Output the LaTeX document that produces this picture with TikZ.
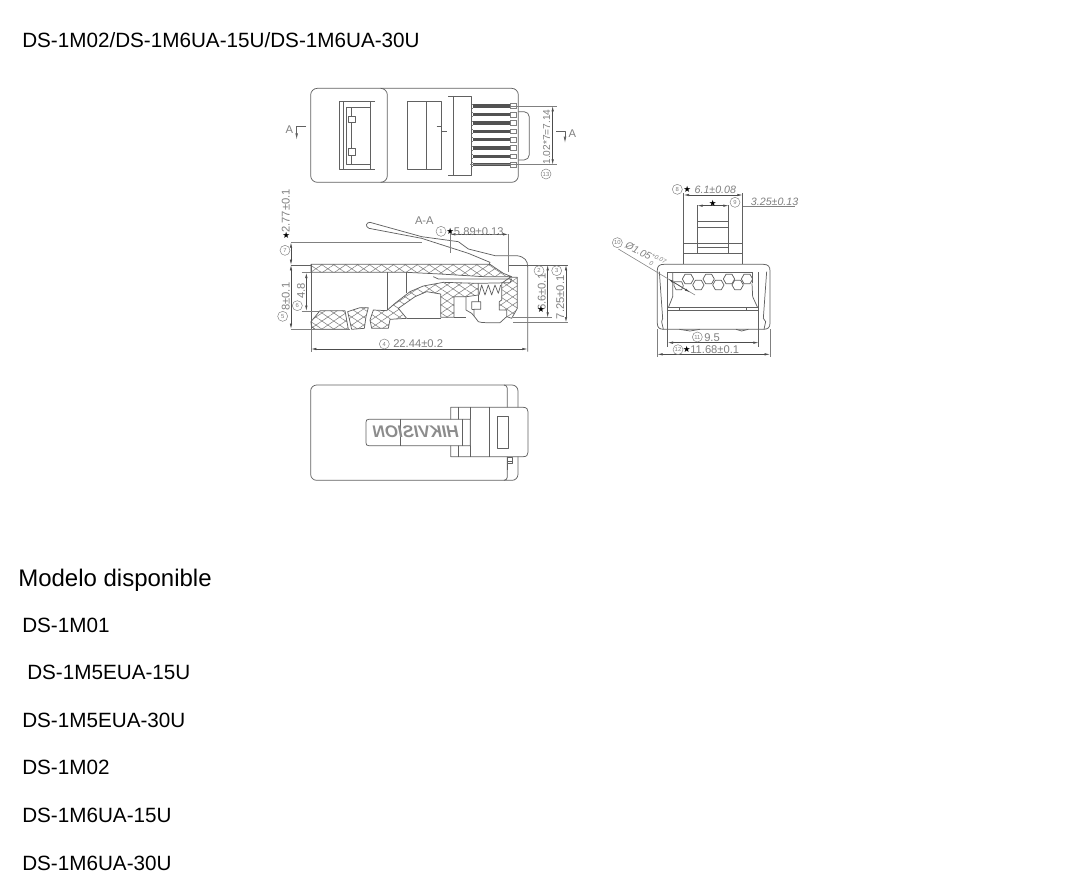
\documentclass[tikz,border=0pt]{standalone}
\usepackage{fontspec}
\setmainfont{Liberation Sans}
\newfontfamily\symfont{DejaVu Sans}
\usetikzlibrary{patterns.meta,arrows.meta}
\definecolor{ink}{gray}{0.38}
\definecolor{dim}{gray}{0.5}
\tikzset{
  list/.style={anchor=west,inner sep=0pt,font=\fontsize{15.5}{18}\selectfont,text=black},
  part/.style={draw=ink,line width=.55pt,line join=round},
  thin part/.style={draw=dim,line width=.4pt},
  dimline/.style={draw=dim,line width=.4pt},
  arr/.style={draw=black!70,line width=.45pt,{Latex[length=4pt,width=1.8pt]}-{Latex[length=4pt,width=1.8pt]}},
  dimtext/.style={inner sep=0pt,text=dim,font=\fontsize{8.4}{10}\selectfont},
  num/.style={draw=dim,circle,line width=.35pt,inner sep=0pt,minimum size=7.5pt,text=dim,font=\fontsize{4.4}{5}\selectfont},
  hatchA/.style={pattern={Lines[angle=34,distance=5pt,line width=.4pt]},pattern color=dim},
  hatchB/.style={pattern={Lines[angle=-34,distance=5pt,line width=.4pt]},pattern color=dim},
  star/.style={inner sep=0pt,text=black,font=\symfont\fontsize{6.5}{7}\selectfont}
}
\newcommand{\hatched}[1]{%
  \path[hatchA] #1; \path[hatchB] #1; \draw[part] #1;}
\begin{document}
\begin{tikzpicture}[x=.75pt,y=-.75pt]
\useasboundingbox (0,0) rectangle (1065,892);
\fill[white] (0,0) rectangle (1065,892);
% texts
\node[list] (title) at (22,40) {DS-1M02/DS-1M6UA-15U/DS-1M6UA-30U};
\node[list,font=\fontsize{18}{20}\selectfont] (modelo) at (18,580) {Modelo disponible};
\node[list] (m1) at (22,625) {DS-1M01};
\node[list] (m2) at (27,672) {DS-1M5EUA-15U};
\node[list] (m3) at (22,720) {DS-1M5EUA-30U};
\node[list] (m4) at (22,767) {DS-1M02};
\node[list] (m5) at (22,815) {DS-1M6UA-15U};
\node[list] (m6) at (22,863) {DS-1M6UA-30U};

% ---------- top view
\begin{scope}[shift={(270,80)},x=.25pt,y=-.25pt]
\draw[part] (122,45) arc[start angle=180,end angle=90,radius=5pt] -- (725,25) arc[start angle=90,end angle=0,radius=5pt] -- (745,287) arc[start angle=0,end angle=-90,radius=5pt] -- (142,307) arc[start angle=270,end angle=180,radius=5pt] -- cycle;
\draw[part] (332,25) arc[start angle=90,end angle=0,radius=5pt] -- (352,287) arc[start angle=0,end angle=-90,radius=5pt];
\draw[part] (315,65) -- (208,65) -- (208,268) -- (315,268);
\draw[part] (220,65) -- (220,268) (300,65) -- (300,268);
\draw[part] (228,82) rectangle (300,252);
\draw[part] (245,82) -- (245,252);
\draw[part,fill=white] (236,108) rectangle (256,128);
\draw[part,fill=white] (236,205) rectangle (256,226);
\draw[part] (411,65) rectangle (515,267) (469,65) -- (469,267);
\draw[part] (500,140) -- (515,140) -- (515,155) -- (532,155);
\draw[part] (535,48) -- (605,48) -- (605,285) -- (535,285) (550,48) -- (550,285);
\foreach \yy in {78,104,129,154,179,204,229,254}{
  \fill[black!68] (610,\yy-5) rectangle (720,\yy+5);
  \draw[thin part] (605,\yy-6) -- (610,\yy-6) (605,\yy+6) -- (610,\yy+6);
  \draw[thin part] (720,\yy-7) rectangle (740,\yy+7);
}
\draw[part] (745,95) -- (762,95) arc[start angle=90,end angle=0,radius=4pt] -- (778,224) arc[start angle=0,end angle=-90,radius=4pt] -- (745,240);
\draw[dimline] (720,78) -- (862,78) (600,254) -- (862,254);
\draw[arr] (848,78) -- (848,254);
\node[dimtext,rotate=90,font=\fontsize{7.6}{9}\selectfont] (d13) at (830,171) {1.02*7=7.14};
\node[num] (c13) at (828,282) {13};
\draw[part,-{Latex[length=5pt,width=2pt]}] (108,140) -- (80,140) -- (80,180);
\node[dimtext] (al) at (58,150) {A};
\draw[part,-{Latex[length=5pt,width=2pt]}] (858,155) -- (885,155) -- (885,190);
\node[dimtext] (ar) at (907,160) {A};
\end{scope}

% ---------- section A-A, body
\begin{scope}[shift={(410,250)},x=.25pt,y=-.25pt]
\hatched{(-297,43) -- (240,43) -- (280,70) -- (305,80) -- (220,80) -- (90,72) -- (-10,67) -- (-297,67) -- cycle}
\hatched{(-297,215) -- (-270,182) -- (-195,182) -- (-185,238) -- (-285,238) .. controls (-293,236) and (-297,228) .. (-297,215)}
\hatched{(-187,185) -- (-150,173) -- (-125,173) -- (-132,200) -- (-137,235) -- (-175,238) -- cycle}
\hatched{(-120,210) -- (-110,180) -- (-70,182) -- (-45,160) -- (0,125) -- (40,108) -- (100,97) -- (205,100) -- (205,135) -- (170,140) -- (132,140) -- (132,202) -- (92,202) -- (92,132) -- (50,125) -- (15,140) -- (-35,175) -- (-10,205) -- (-60,208) -- (-65,235) -- (-115,235) -- cycle}
\hatched{(275,100) -- (300,82) -- (322,82) -- (322,175) -- (305,205) -- (290,200) -- (290,180) -- (268,180) -- (268,155) -- (275,150) -- cycle}
\draw[part] (-297,43) -- (-297,238);
\draw[part] (-67,67) -- (-67,180) (-10,67) -- (-10,130);
\draw[part] (-10,205) -- (92,205) (132,202) -- (168,202);
\draw[part] (85,87) -- (305,87) -- (300,98) -- (205,100) (70,80) -- (85,87);
\draw[part] (207,135) -- (215,105) -- (225,135) -- (235,105) -- (245,135) -- (255,105) -- (265,130) -- (272,105);
\draw[part] (168,140) -- (168,180) -- (185,190) -- (192,198);
\draw[part] (205,135) -- (205,155);
\draw[part] (185,178) -- (185,155) -- (212,155) -- (212,178) -- (192,178) -- (192,198) -- (205,215) .. controls (212,218) and (220,218) .. (230,218) -- (270,218) -- (290,200);
\draw[part] (185,178) -- (192,178);
\end{scope}

% ---------- section A-A, latch and dimensions
\begin{scope}[shift={(265,185)},x=.25pt,y=-.25pt]
\draw[part] (672,240) -- (675,232) -- (610,205) -- (470,160) -- (312,130) .. controls (300,125) and (303,112) .. (315,112) -- (470,155) -- (580,170) -- (610,192) -- (690,212) -- (755,212) .. controls (780,215) and (788,228) .. (788,245) -- (788,500);
\draw[part] (730,240) -- (910,240) (78,240) -- (138,240);
\draw[dimline] (745,398) -- (860,398);
\draw[dimline] (78,172) -- (470,172) (78,432) -- (255,432);
\draw[dimline] (110,263) -- (138,263) (110,378) -- (165,378);
\draw[dimline] (555,140) -- (555,205) (730,148) -- (730,262);
\draw[dimline] (138,432) -- (138,500);
\draw[dimline] (745,412) -- (910,412);
\draw[arr] (78,172) -- (78,240);
\draw[arr] (78,240) -- (78,432);
\draw[arr] (124,263) -- (124,378);
\draw[arr] (555,148) -- (730,148);
\draw[arr] (138,492) -- (788,492);
\draw[arr] (848,240) -- (848,398);
\draw[arr] (903,240) -- (903,412);
\node[dimtext,rotate=90] (t277) at (62,78) {2.77±0.1};
\node[star] (s277) at (64,150) {★};
\node[num] (c7) at (60,196) {7};
\node[dimtext,rotate=90] (t8) at (62,335) {8±0.1};
\node[num] (c5) at (53,394) {5};
\node[dimtext,rotate=90] (t48) at (108,318) {4.8};
\node[num] (c6) at (97,362) {6};
\node[dimtext] (aa) at (478,108) {A-A};
\node[num] (c1) at (528,139) {1};
\node[star] (s589) at (556,138) {★};
\node[dimtext,anchor=west] (t589) at (566,140) {5.89±0.13};
\node[num] (c2) at (822,257) {2};
\node[dimtext,rotate=90] (t66) at (830,322) {6.6±0.1};
\node[star] (s66) at (828,372) {★};
\node[num] (c3) at (875,257) {3};
\node[dimtext,rotate=90] (t725) at (886,337) {7.25±0.1};
\node[num] (c4) at (358,477) {4};
\node[dimtext,anchor=west] (t2244) at (384,477) {22.44±0.2};
\end{scope}

% ---------- front view
\begin{scope}[shift={(600,175)},x=.25pt,y=-.25pt]
\draw[part] (251,55) -- (251,268) (428,55) -- (428,268) (292,90) -- (292,205) (386,90) -- (386,205);
\draw[part] (251,205) -- (428,205) (251,235) -- (428,235) (292,218) -- (386,218) (292,140) -- (386,140) (292,157) -- (386,157);
\draw[part] (292,205) -- (292,235) (386,205) -- (386,235);
\draw[part] (172,285) .. controls (172,272) and (180,268) .. (192,268) -- (490,268) .. controls (505,268) and (510,275) .. (510,288) -- (510,445) .. controls (510,458) and (503,463) .. (490,463) -- (192,463) .. controls (178,463) and (172,458) .. (172,445) -- cycle;
\draw[part] (190,463) -- (185,440) -- (188,430) -- (178,290) (492,463) -- (497,440) -- (490,430) -- (500,290);
\draw[part] (203,292) -- (458,292) (203,292) -- (203,515) (458,292) -- (458,325) (476,292) -- (476,515);
\draw[part] (218,292) -- (218,365) -- (205,398) (456,325) -- (458,365) -- (473,398);
\draw[part] (203,398) -- (476,398) (203,406) -- (476,406) (238,398) -- (238,406) (440,398) -- (440,406);
\draw[part] (238,463) -- (270,468) -- (300,463) (408,463) -- (425,468) -- (445,463);
\foreach \cx/\cy in {264/312, 326/312, 387/312, 441/312, 295/330, 355/330, 413/330}{
  \draw[part] (\cx-17,\cy) -- (\cx-9,\cy-14) -- (\cx+9,\cy-14) -- (\cx+17,\cy) -- (\cx+9,\cy+14) -- (\cx-9,\cy+14) -- cycle;
}
\draw[part] (222,320) -- (245,320) -- (250,332) -- (245,344) -- (228,344) -- (222,332) -- cycle;
\draw[dimline] (55,222) -- (285,360);
\draw[arr] (205,312) -- (270,352);
\draw[arr] (251,60) -- (428,60);
\draw[arr] (292,92) -- (386,92);
\draw[dimline] (428,95) -- (585,95);
\draw[dimline] (172,463) -- (172,545) (510,463) -- (510,545);
\draw[arr] (203,503) -- (476,503);
\draw[arr] (172,538) -- (510,538);
\node[num] (c8) at (232,43) {8};
\node[star] (s61) at (262,43) {★};
\node[dimtext,anchor=west,font=\fontsize{8}{9}\selectfont\itshape] (t61) at (283,43) {6.1±0.08};
\node[star] (s325) at (338,84) {★};
\node[num] (c9) at (405,82) {9};
\node[dimtext,anchor=west,font=\fontsize{8}{9}\selectfont\itshape] (t325) at (452,80) {3.25±0.13};
\node[num] (c10) at (52,203) {10};
\node[dimtext,rotate=-27,anchor=west,font=\fontsize{7.6}{9}\selectfont\itshape] (t105) at (76,212) {Ø1.05\rlap{\raisebox{3pt}{\fontsize{4.6}{5}\selectfont +0.07}}\raisebox{-3pt}{\fontsize{4.6}{5}\selectfont\ 0}};
\node[num] (c11) at (292,486) {11};
\node[dimtext,anchor=west] (t95) at (312,488) {9.5};
\node[num] (c12) at (234,524) {12};
\node[star] (s1168) at (260,524) {★};
\node[dimtext,anchor=west] (t1168) at (270,525) {11.68±0.1};
\end{scope}

% ---------- bottom view
\begin{scope}[shift={(300,375)},x=.25pt,y=-.25pt]
\draw[part] (32,48) arc[start angle=180,end angle=90,radius=4.5pt] -- (636,30) arc[start angle=90,end angle=0,radius=4.5pt] -- (654,298) arc[start angle=0,end angle=-90,radius=4.5pt] -- (50,316) arc[start angle=270,end angle=180,radius=4.5pt] -- cycle;
\draw[part] (612,30) arc[start angle=90,end angle=0,radius=2.5pt] -- (622,306) arc[start angle=0,end angle=-90,radius=2.5pt];
\draw[part,fill=white] (670,97) .. controls (680,97) and (684,103) .. (684,110) -- (684,232) .. controls (684,240) and (680,245) .. (670,245) -- (452,245) -- (452,97) -- cycle;
\draw[part] (476,97) -- (476,245) (511,97) -- (511,245) (568,97) -- (568,245);
\draw[part,fill=white] (198,142) .. controls (198,136) and (200,133) .. (206,133) -- (511,133) -- (511,212) -- (206,212) .. controls (200,212) and (198,209) .. (198,203) -- cycle;
\draw[part] (302,133) -- (302,212) (488,133) -- (488,212);
\draw[part] (592,125) rectangle (626,220);
\draw[part] (622,248) rectangle (636,266) (622,258) -- (636,258) (622,266) -- (622,285);
\node[inner sep=0pt,xscale=-1,text=black!45,font=\fontsize{12.6}{13}\selectfont\itshape\bfseries] (logo) at (348,170) {HIKVISION};
\end{scope}
\end{tikzpicture}
\end{document}
